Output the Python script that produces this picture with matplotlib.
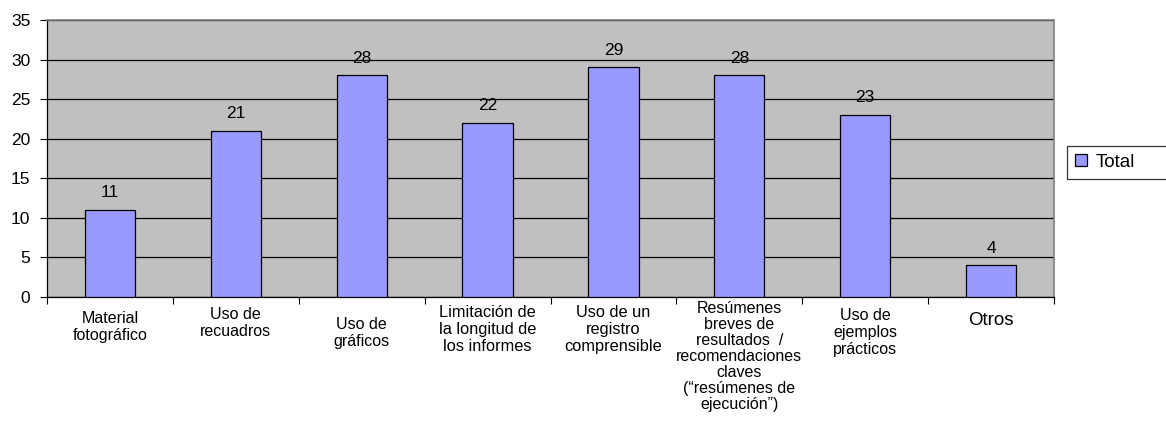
import matplotlib
matplotlib.use("Agg")
import matplotlib.pyplot as plt
from matplotlib.transforms import blended_transform_factory
import numpy as np

plt.rcParams['font.family'] = ['Liberation Sans', 'DejaVu Sans']

# data
categories = [
    "Material\nfotográfico",
    "Uso de\nrecuadros",
    "Uso de\ngráficos",
    "Limitación de\nla longitud de\nlos informes",
    "Uso de un\nregistro\ncomprensible",
    "Resúmenes\nbreves de\nresultados  /\nrecomendaciones\nclaves\n(“resúmenes de\nejecución”)",
    "Uso de\nejemplos\nprácticos",
    "Otros",
]
totals = [11, 21, 28, 22, 29, 28, 23, 4]

# per-label look (Excel shrinks / shifts some wrapped labels)
label_sizes = [11.5, 11.5, 11.5, 11.8, 11.8, 11.5, 11.5, 13.5]
label_spacing = [1.15, 1.15, 1.15, 1.17, 1.17, 1.08, 1.15, 1.15]
label_tops = [311, 307, 317, 305, 305, 301, 308, 312]  # pixels from top

fig = plt.figure(figsize=(11.66, 4.25), dpi=100)
W, H = 1166, 425
ax = fig.add_axes([47 / W, 1 - 297 / H, (1054 - 47) / W, (297 - 20) / H])

x = np.arange(len(categories))
bars = ax.bar(x, totals, width=0.4, color='#9999FF', edgecolor='black',
              linewidth=0.9, label='Total', zorder=3)

ax.set_facecolor('#C0C0C0')
ax.set_xlim(-0.5, len(categories) - 0.5)
ax.set_ylim(0, 35)
ax.set_yticks(range(0, 36, 5))
ax.yaxis.grid(True, color='black', linewidth=0.9, zorder=1)
ax.set_axisbelow(True)
ax.tick_params(axis='y', labelsize=12.5, length=5, width=0.8, pad=7)

# category boundary ticks, labels drawn separately
ax.set_xticks(np.arange(len(categories) + 1) - 0.5)
ax.set_xticklabels([])
ax.tick_params(axis='x', length=5, width=0.8, direction='out')

for side in ['top', 'right']:
    ax.spines[side].set_color('#808080')
    ax.spines[side].set_linewidth(1.2)
for side in ['left', 'bottom']:
    ax.spines[side].set_color('black')
    ax.spines[side].set_linewidth(0.9)

lab_tr = blended_transform_factory(ax.transData, fig.transFigure)
for i, lab in enumerate(categories):
    ax.text(i, 1 - label_tops[i] / H, lab, transform=lab_tr,
            ha='center', va='top', fontsize=label_sizes[i],
            linespacing=label_spacing[i], multialignment='center')

for b, v in zip(bars, totals):
    ax.annotate(str(v), (b.get_x() + b.get_width() / 2, v), xytext=(0, 9),
                textcoords='offset points', ha='center', va='baseline', fontsize=12.5)

leg = fig.legend(handles=[bars], labels=['Total'], loc='center left',
                 bbox_to_anchor=(1067 / W, 1 - 181 / H, 0.12, 37 / H), mode='expand',
                 fancybox=False, edgecolor='black', fontsize=13.5, handlelength=0.6,
                 handleheight=0.6, handletextpad=0.45, borderaxespad=0, borderpad=0.45)
leg.get_frame().set_linewidth(0.9)

fig.savefig('out.png', dpi=100)
